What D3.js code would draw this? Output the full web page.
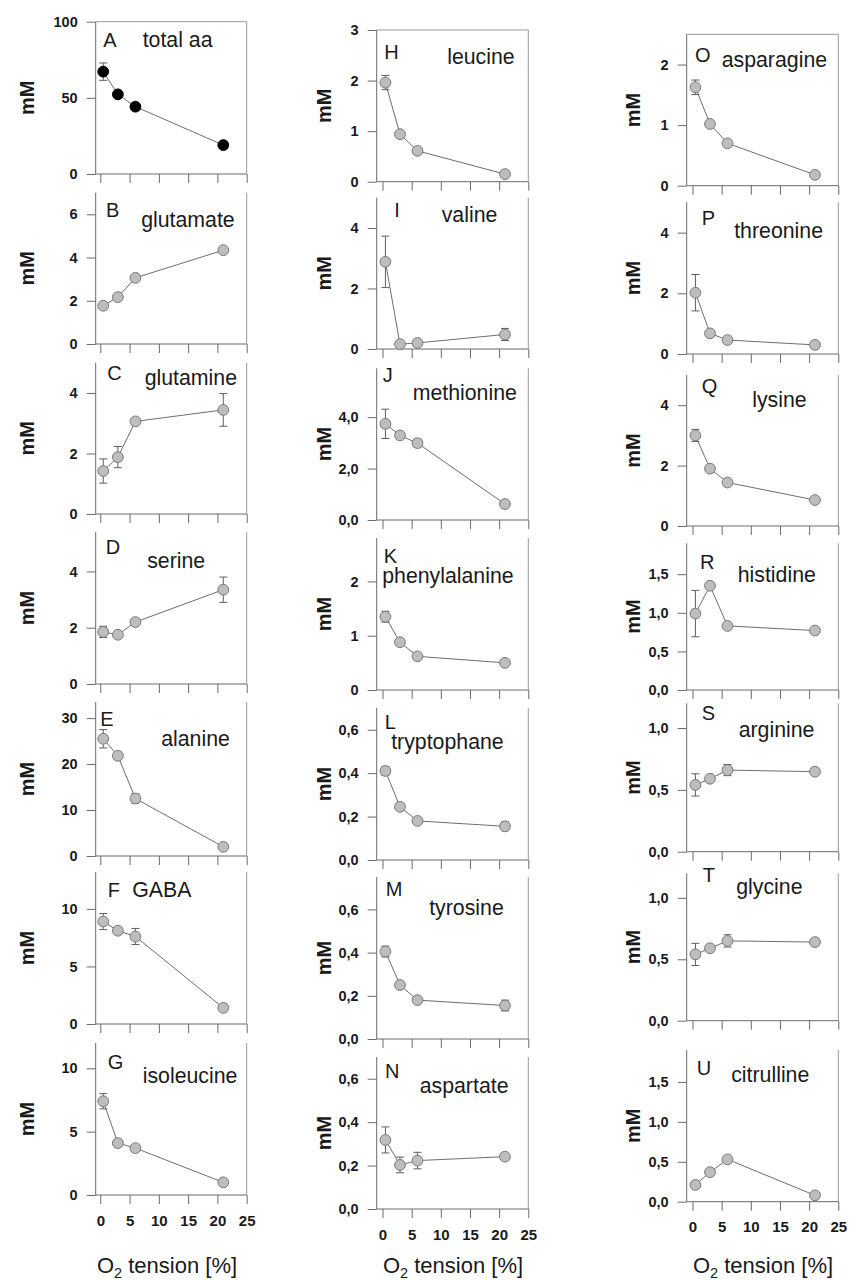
<!DOCTYPE html>
<html>
<head>
<meta charset="utf-8">
<script src="https://cdn.jsdelivr.net/npm/d3@7"></script>
<style>
  body { margin: 0; background: #fff; }
  svg { display: block; }
  text { font-family: "Liberation Sans", Arial, Helvetica, sans-serif; fill: #1a1a1a; }
</style>
</head>
<body>
<svg id="fig" width="849" height="1280"></svg>
<script>
// O2 tension (%) at which the amino acid concentrations were measured
const o2Tension = [0.5, 3, 6, 21];
const xTickValues = [0, 5, 10, 15, 20, 25];

// Concentrations (mM), mean and error, per amino acid
const totalAA = [67.2, 52.3, 44.2, 19.0];
const totalAAErr = [5.7, 0, 0, 0];
const glutamate = [1.77, 2.17, 3.06, 4.34];
const glutamateErr = [0, 0, 0, 0];
const glutamine = [1.42, 1.88, 3.06, 3.44];
const glutamineErr = [0.4, 0.35, 0.1, 0.54];
const serine = [1.85, 1.75, 2.2, 3.35];
const serineErr = [0.2, 0.1, 0.1, 0.45];
const alanine = [25.5, 21.8, 12.5, 2.0];
const alanineErr = [2.0, 0.8, 1.0, 0.3];
const gaba = [8.9, 8.1, 7.6, 1.4];
const gabaErr = [0.7, 0.3, 0.7, 0.1];
const isoleucine = [7.4, 4.1, 3.7, 1.0];
const isoleucineErr = [0.6, 0.2, 0.2, 0.1];

const leucine = [1.96, 0.94, 0.61, 0.15];
const leucineErr = [0.14, 0.05, 0.03, 0.02];
const valine = [2.88, 0.16, 0.2, 0.48];
const valineErr = [0.85, 0.05, 0.05, 0.2];
const methionine = [3.74, 3.29, 2.99, 0.62];
const methionineErr = [0.57, 0.1, 0.15, 0.05];
const phenylalanine = [1.35, 0.88, 0.62, 0.5];
const phenylalanineErr = [0.1, 0.03, 0.03, 0.03];
const tryptophane = [0.41, 0.245, 0.18, 0.155];
const tryptophaneErr = [0.02, 0.015, 0.01, 0.02];
const tyrosine = [0.405, 0.25, 0.18, 0.155];
const tyrosineErr = [0.025, 0.015, 0.01, 0.025];
const aspartate = [0.318, 0.203, 0.223, 0.241];
const aspartateErr = [0.06, 0.036, 0.038, 0.01];

const asparagine = [1.625, 1.02, 0.70, 0.18];
const asparagineErr = [0.12, 0.03, 0.03, 0.02];
const threonine = [2.02, 0.68, 0.46, 0.30];
const threonineErr = [0.6, 0.05, 0.05, 0.05];
const lysine = [3.0, 1.9, 1.44, 0.86];
const lysineErr = [0.2, 0.05, 0.05, 0.05];
const histidine = [0.99, 1.35, 0.83, 0.77];
const histidineErr = [0.3, 0.02, 0.02, 0.02];
const arginine = [0.54, 0.59, 0.66, 0.647];
const arginineErr = [0.09, 0.02, 0.045, 0.03];
const glycine = [0.54, 0.59, 0.65, 0.64];
const glycineErr = [0.09, 0.02, 0.05, 0.03];
const citrulline = [0.21, 0.37, 0.53, 0.08];
const citrullineErr = [0.02, 0.02, 0.02, 0.01];

// y-axis tick values per panel
const ticksA = [0, 50, 100];
const ticksB = [0, 2, 4, 6];
const ticksC = [0, 2, 4];
const ticksD = [0, 2, 4];
const ticksE = [0, 10, 20, 30];
const ticksF = [0, 5, 10];
const ticksG = [0, 5, 10];
const ticksH = [0, 1, 2, 3];
const ticksI = [0, 2, 4];
const ticksJ = [0, 2, 4];
const ticksK = [0, 1, 2];
const ticksL = [0, 0.2, 0.4, 0.6];
const ticksM = [0, 0.2, 0.4, 0.6];
const ticksN = [0, 0.2, 0.4, 0.6];
const ticksO = [0, 1, 2];
const ticksP = [0, 2, 4];
const ticksQ = [0, 2, 4];
const ticksR = [0, 0.5, 1, 1.5];
const ticksS = [0, 0.5, 1];
const ticksT = [0, 0.5, 1];
const ticksU = [0, 0.5, 1, 1.5];

// Panel definitions: letter, name, data, y max, ticks, decimals
const panels = [
  { id: "A", name: "total aa", v: totalAA, e: totalAAErr, max: 100, ticks: ticksA, dec: 0, dark: true },
  { id: "B", name: "glutamate", v: glutamate, e: glutamateErr, max: 7, ticks: ticksB, dec: 0 },
  { id: "C", name: "glutamine", v: glutamine, e: glutamineErr, max: 5, ticks: ticksC, dec: 0 },
  { id: "D", name: "serine", v: serine, e: serineErr, max: 5.4, ticks: ticksD, dec: 0 },
  { id: "E", name: "alanine", v: alanine, e: alanineErr, max: 33.5, ticks: ticksE, dec: 0 },
  { id: "F", name: "GABA", v: gaba, e: gabaErr, max: 13.2, ticks: ticksF, dec: 0 },
  { id: "G", name: "isoleucine", v: isoleucine, e: isoleucineErr, max: 12, ticks: ticksG, dec: 0 },
  { id: "H", name: "leucine", v: leucine, e: leucineErr, max: 3, ticks: ticksH, dec: 0 },
  { id: "I", name: "valine", v: valine, e: valineErr, max: 5, ticks: ticksI, dec: 0 },
  { id: "J", name: "methionine", v: methionine, e: methionineErr, max: 5.9, ticks: ticksJ, dec: 1 },
  { id: "K", name: "phenylalanine", v: phenylalanine, e: phenylalanineErr, max: 2.8, ticks: ticksK, dec: 0 },
  { id: "L", name: "tryptophane", v: tryptophane, e: tryptophaneErr, max: 0.7, ticks: ticksL, dec: 1 },
  { id: "M", name: "tyrosine", v: tyrosine, e: tyrosineErr, max: 0.75, ticks: ticksM, dec: 1 },
  { id: "N", name: "aspartate", v: aspartate, e: aspartateErr, max: 0.7, ticks: ticksN, dec: 1 },
  { id: "O", name: "asparagine", v: asparagine, e: asparagineErr, max: 2.5, ticks: ticksO, dec: 0 },
  { id: "P", name: "threonine", v: threonine, e: threonineErr, max: 5, ticks: ticksP, dec: 0 },
  { id: "Q", name: "lysine", v: lysine, e: lysineErr, max: 5, ticks: ticksQ, dec: 0 },
  { id: "R", name: "histidine", v: histidine, e: histidineErr, max: 1.9, ticks: ticksR, dec: 1 },
  { id: "S", name: "arginine", v: arginine, e: arginineErr, max: 1.2, ticks: ticksS, dec: 1 },
  { id: "T", name: "glycine", v: glycine, e: glycineErr, max: 1.2, ticks: ticksT, dec: 1 },
  { id: "U", name: "citrulline", v: citrulline, e: citrullineErr, max: 1.9, ticks: ticksU, dec: 1 }
];

// ---- layout (pixels) ----
const columns = [
  { left: 95.7, zero: 100.3, right: 246.7, ylab: 26.5, title: 167 },
  { left: 376.7, zero: 382.5, right: 528.3, ylab: 324, title: 453 },
  { left: 686.7, zero: 692.5, right: 838.3, ylab: 633, title: 763 }
];
// [top, bottom] of each panel's plotting area, row by row
const frames = [
  [[21.7, 174], [192.7, 344], [362.7, 514], [532, 684], [702, 856], [872, 1024], [1043, 1195]],
  [[30, 181.7], [197.7, 349], [368.3, 520], [538, 690], [708, 860], [877, 1039], [1057, 1209]],
  [[34.3, 185.7], [202.3, 354], [375, 526], [543.3, 690], [703.3, 851.7], [873.3, 1020.7], [1050, 1201.7]]
];
// label placement relative to panel left/top: letter [dx, dy]
const labelPos = [
  [[7.6, 25], [10.3, 24], [11.6, 17.3], [10, 22], [4.5, 24], [12, 25], [12, 26]],
  [[7.6, 29.3], [17.6, 19.6], [6, 14], [7, 24.5], [8, 21], [9, 19], [8.3, 21.3]],
  [[8.3, 27.4], [15, 22.7], [15, 18.3], [13.3, 26], [15, 16.7], [16, 8.4], [10, 25]]
];
// amino acid name [dx, dy]
const nameOffset = [
  [[47, 25], [45.5, 34.6], [49, 22.3], [51.5, 36], [65.5, 44], [36.5, 25], [47, 39.7]],
  [[70.5, 34], [65, 24.6], [36, 31.7], [5.5, 45], [14.5, 40.5], [52.5, 38], [43, 36.3]],
  [[35, 32.4], [47.5, 36], [65.5, 32.3], [51, 38.4], [52, 34], [49.5, 20.7], [44.5, 31.7]]
];
const titleBaseline = 1273;

const svg = d3.select("#fig");
const commaLocale = d3.formatLocale({ decimal: ",", thousands: ".", grouping: [3], currency: ["", ""] });

panels.forEach((p, i) => {
  const col = Math.floor(i / 7), row = i % 7;
  const c = columns[col];
  const [top, bottom] = frames[col][row];
  const x = d3.scaleLinear().domain([0, 25]).range([c.zero, c.right]);
  const y = d3.scaleLinear().domain([0, p.max]).range([bottom, top]);
  const g = svg.append("g");

  // frame: right edge and, for the first row, a top edge
  g.append("line").attr("x1", c.right).attr("x2", c.right).attr("y1", top).attr("y2", bottom)
    .attr("stroke", "#9a9a9a").attr("stroke-width", 1);
  if (row === 0) {
    g.append("line").attr("x1", c.left).attr("x2", c.right).attr("y1", top).attr("y2", top)
      .attr("stroke", "#9a9a9a").attr("stroke-width", 1);
  }

  // y axis
  const fmt = p.dec ? commaLocale.format(".1f") : d3.format("d");
  const yAxis = g.append("g").attr("transform", `translate(${c.left},0)`)
    .call(d3.axisLeft(y).tickValues(p.ticks).tickFormat(fmt).tickSize(9).tickPadding(9));
  yAxis.select(".domain").attr("d", `M0,${top}V${bottom}`).attr("stroke", "#6a6a6a");
  yAxis.selectAll(".tick line").attr("stroke", "#6a6a6a");
  yAxis.selectAll(".tick text").attr("font-size", 14.5).attr("font-weight", "bold").attr("fill", "#1a1a1a")
    .style("font-family", "'Liberation Sans', Arial, sans-serif");

  // x axis
  const xAxis = g.append("g").attr("transform", `translate(0,${bottom})`)
    .call(d3.axisBottom(x).tickValues(xTickValues).tickSize(9).tickPadding(11)
      .tickFormat(row === 6 ? d3.format("d") : () => ""));
  xAxis.select(".domain").attr("d", `M${c.left},0H${c.right}`).attr("stroke", "#6a6a6a");
  xAxis.selectAll(".tick line").attr("stroke", "#6a6a6a");
  xAxis.selectAll(".tick text").attr("font-size", 15).attr("font-weight", "bold").attr("fill", "#1a1a1a")
    .style("font-family", "'Liberation Sans', Arial, sans-serif");

  // y label
  g.append("text")
    .attr("transform", `translate(${c.ylab},${(top + bottom) / 2}) rotate(-90)`)
    .attr("text-anchor", "middle").attr("dominant-baseline", "central")
    .attr("font-size", 20).attr("font-weight", "bold").text("mM");

  // panel letter and amino acid name
  const lp = labelPos[col][row], np = nameOffset[col][row];
  g.append("text").attr("x", c.left + lp[0]).attr("y", top + lp[1])
    .attr("font-size", 20).text(p.id);
  g.append("text").attr("x", c.left + np[0]).attr("y", top + np[1])
    .attr("font-size", 21.3).text(p.name);

  const pts = o2Tension.map((t, k) => ({ t, v: p.v[k], e: p.e[k] }));

  // connecting line
  g.append("path").datum(pts)
    .attr("d", d3.line().x(d => x(d.t)).y(d => y(d.v)))
    .attr("fill", "none").attr("stroke", "#6e6e6e").attr("stroke-width", 1);

  // error bars
  const eb = g.append("g").attr("stroke", "#5e5e5e").attr("stroke-width", 1);
  pts.filter(d => d.e > 0).forEach(d => {
    const cx = x(d.t), y1 = y(d.v + d.e), y2 = y(d.v - d.e);
    eb.append("line").attr("x1", cx).attr("x2", cx).attr("y1", y1).attr("y2", y2);
    eb.append("line").attr("x1", cx - 4).attr("x2", cx + 4).attr("y1", y1).attr("y2", y1);
    eb.append("line").attr("x1", cx - 4).attr("x2", cx + 4).attr("y1", y2).attr("y2", y2);
  });

  // markers
  g.selectAll("circle.pt").data(pts).join("circle").attr("class", "pt")
    .attr("cx", d => x(d.t)).attr("cy", d => y(d.v)).attr("r", 5.4)
    .attr("fill", p.dark ? "#000" : "#bdbdbd")
    .attr("stroke", p.dark ? "#000" : "#7a7a7a").attr("stroke-width", 1);

  // x axis title under the bottom panel of each column
  if (row === 6) {
    const t = svg.append("text").attr("x", c.title).attr("y", titleBaseline)
      .attr("text-anchor", "middle").attr("font-size", 22);
    t.append("tspan").text("O");
    t.append("tspan").attr("font-size", 14.5).attr("dy", 5).text("2");
    t.append("tspan").attr("dy", -5).text(" tension [%]");
  }
});
</script>
</body>
</html>
